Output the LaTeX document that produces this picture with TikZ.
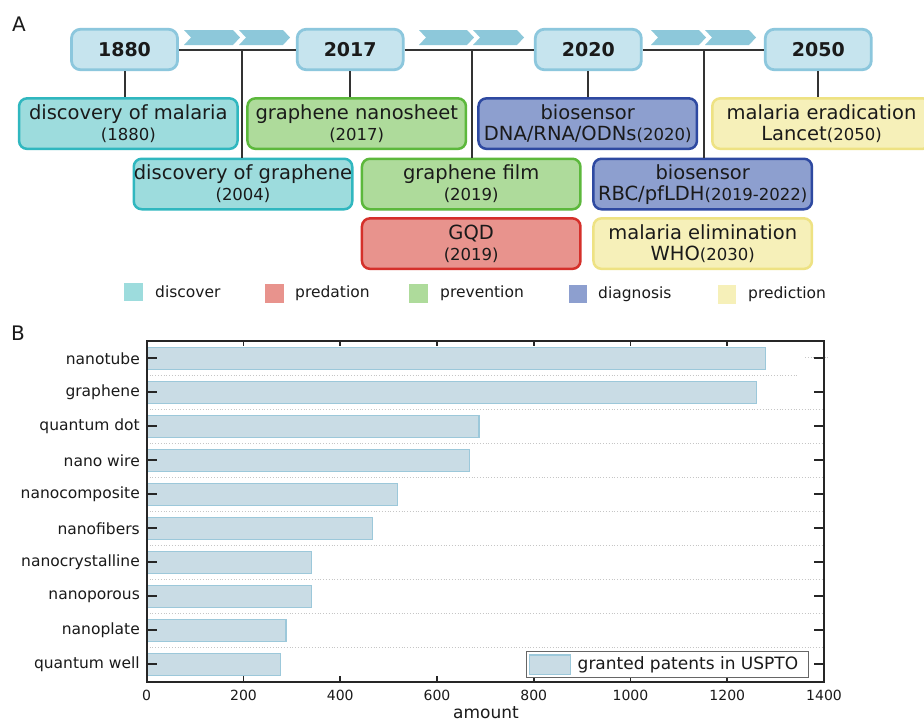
\documentclass[tikz,border=0pt]{standalone}
\usepackage{fontspec}
\setmainfont{DejaVu Sans}
\definecolor{yearF}{HTML}{C6E4EE}
\definecolor{yearB}{HTML}{8CC7DD}
\definecolor{chevC}{HTML}{8DC8DA}
\definecolor{discF}{HTML}{9DDCDD}
\definecolor{discB}{HTML}{30B7BF}
\definecolor{prevF}{HTML}{AEDB9B}
\definecolor{prevB}{HTML}{5CB83C}
\definecolor{predF}{HTML}{E8938D}
\definecolor{predB}{HTML}{D5302A}
\definecolor{diagF}{HTML}{8D9FCF}
\definecolor{diagB}{HTML}{2E49A1}
\definecolor{progF}{HTML}{F6F0B9}
\definecolor{progB}{HTML}{EEE283}
\definecolor{barF}{HTML}{C9DCE5}
\definecolor{barB}{HTML}{9CC8DA}
\definecolor{txt}{HTML}{1A1A1A}
\definecolor{connC}{HTML}{333333}
\newcommand{\evtext}[2]{\fontsize{19.5}{21}\selectfont\begin{tabular}{@{}c@{}}\rule{0pt}{19pt}#1\\{\fontsize{16.5}{21}\selectfont #2}\end{tabular}}
\begin{document}
\begin{tikzpicture}[x=1pt,y=-1pt,
  every node/.style={text=txt},
  yearbox/.style={draw=yearB, fill=yearF, line width=2.8pt, rounded corners=9pt,
    minimum width=106pt, minimum height=40.5pt, inner sep=0pt,
    font=\fontsize{19}{22}\selectfont\bfseries},
  evbox/.style={line width=2.5pt, rounded corners=8pt, minimum width=218.5pt,
    minimum height=50.5pt, inner sep=0pt},
  discbox/.style={evbox, draw=discB, fill=discF},
  prevbox/.style={evbox, draw=prevB, fill=prevF},
  predbox/.style={evbox, draw=predB, fill=predF},
  diagbox/.style={evbox, draw=diagB, fill=diagF},
  progbox/.style={evbox, draw=progB, fill=progF},
  conn/.style={draw=connC, line width=2pt},
  chevst/.style={fill=chevC},
  legsq/.style={minimum size=18.5pt, inner sep=0pt},
  legtxt/.style={anchor=west, inner sep=0pt, font=\fontsize{15.5}{18}\selectfont},
  barst/.style={draw=barB, fill=barF, line width=1.2pt},
  gridln/.style={draw=gray!45, dotted, line width=0.8pt},
  axisln/.style={draw=black!85, line width=1.8pt},
  ylab/.style={font=\fontsize{15.5}{18}\selectfont, inner sep=0pt},
  xlab/.style={font=\fontsize{14}{16}\selectfont, inner sep=0pt},
  panel/.style={font=\fontsize{20}{22}\selectfont, inner sep=0pt}
]
\useasboundingbox (0,0) rectangle (924,724);
\clip (0,0) rectangle (924,724);
\fill[white] (0,0) rectangle (924,724);

% panel labels
\node[panel] (pA) at (19,24) {A};
\node[panel] (pB) at (18,333) {B};

% chevrons
\foreach \a/\b in {184/240,239/290,419/474,473/524,651/706,705/756}{
  \fill[chevst] (\a,30) -- (\b-7,30) -- (\b,37.5) -- (\b-7,45) -- (\a,45) -- (\a+7,37.5) -- cycle;
}

% year nodes
\node[yearbox] (y1880) at (124.5,49.5) {1880};
\node[yearbox] (y2017) at (350.2,49.5) {2017};
\node[yearbox] (y2020) at (588.3,49.5) {2020};
\node[yearbox] (y2050) at (818.3,49.5) {2050};

% event nodes
\node[discbox] (mal) at (128.3,123.6) {\evtext{discovery of malaria}{(1880)}};
\node[prevbox] (nano) at (356.7,123.6) {\evtext{graphene nanosheet}{(2017)}};
\node[diagbox] (dna) at (587.7,123.6) {\evtext{biosensor}{{\fontsize{19.5}{21}\selectfont DNA/RNA/ODNs}(2020)}};
\node[progbox] (erad) at (821.5,123.6) {\evtext{malaria eradication}{{\fontsize{19.5}{21}\selectfont Lancet}(2050)}};
\node[discbox] (dg) at (243,184) {\evtext{discovery of graphene}{(2004)}};
\node[prevbox] (film) at (471.2,184) {\evtext{graphene film}{(2019)}};
\node[diagbox] (rbc) at (702.7,184) {\evtext{biosensor}{{\fontsize{19.5}{21}\selectfont RBC/pfLDH}(2019-2022)}};
\node[predbox] (gqd) at (471.2,243.6) {\evtext{GQD}{(2019)}};
\node[progbox] (elim) at (702.7,243.6) {\evtext{malaria elimination}{{\fontsize{19.5}{21}\selectfont WHO}(2030)}};

% connectors
\draw[conn] (y1880) -- (y2017);
\draw[conn] (y2017) -- (y2020);
\draw[conn] (y2020) -- (y2050);
\draw[conn] (y1880.south) -- (y1880.south |- mal.north);
\draw[conn] (y2017.south) -- (y2017.south |- nano.north);
\draw[conn] (y2020.south) -- (y2020.south |- dna.north);
\draw[conn] (y2050.south) -- (y2050.south |- erad.north);
\coordinate (j1) at (242.3,49.5);
\coordinate (j2) at (472.3,49.5);
\coordinate (j3) at (704.3,49.5);
\draw[conn] (j1) -- (j1 |- dg.north);
\draw[conn] (j2) -- (j2 |- film.north);
\draw[conn] (j3) -- (j3 |- rbc.north);

% legend A
\node[legsq, fill=discF] (lq1) at (133.5,292) {};
\node[legtxt] (lt1) at (155,292) {discover};
\node[legsq, fill=predF] (lq2) at (274.7,293.5) {};
\node[legtxt] (lt2) at (295,293.5) {predation};
\node[legsq, fill=prevF] (lq3) at (418.7,293.5) {};
\node[legtxt] (lt3) at (440,293.5) {prevention};
\node[legsq, fill=diagF] (lq4) at (577.8,294) {};
\node[legtxt] (lt4) at (598,294) {diagnosis};
\node[legsq, fill=progF] (lq5) at (727,294.5) {};
\node[legtxt] (lt5) at (748,294.5) {prediction};

% plot B
\draw[gridln] (146.7,375.3) -- (797,375.3);
\foreach \i in {1,...,8}{
  \draw[gridln] (146.7,375.3+34*\i) -- (824,375.3+34*\i);
}
\draw[gridln] (805,357) -- (830,357);
\foreach \lab/\val [count=\i from 0] in {nanotube/1279,graphene/1260,quantum dot/687,nano wire/668,nanocomposite/519,nanofibers/466,nanocrystalline/341,nanoporous/340,nanoplate/288,quantum well/276}{
  \pgfmathsetmacro\yc{358.3+34*\i}
  \draw[barst] (146.7,\yc-11) rectangle ({146.7+0.4838*\val},\yc+11);
  \node[ylab, anchor=east] (yl\i) at (140,\yc) {\lab};
  \draw[axisln] (146.7,\yc) -- (156.7,\yc);
  \draw[axisln] (814,\yc) -- (824,\yc);
}
\draw[axisln] (146.7,341) rectangle (824,681.7);
\foreach \v in {200,400,...,1200}{
  \draw[axisln] ({146.7+0.4838*\v},341) -- ({146.7+0.4838*\v},346);
  \draw[axisln] ({146.7+0.4838*\v},681.7) -- ({146.7+0.4838*\v},676);
}
\foreach \v in {0,200,...,1400}{
  \node[xlab] (xt\v) at ({146.7+0.4838*\v},695) {\v};
}
\node[font=\fontsize{17}{19}\selectfont, inner sep=0pt] (xtitle) at (486,712.5) {amount};

% plot legend
\draw[draw=black!60, fill=white, line width=1pt] (526.7,651.7) rectangle (808.3,677.3);
\draw[barst] (529.5,655) rectangle (570.5,674.5);
\node[anchor=west, inner sep=0pt, font=\fontsize{17}{19}\selectfont] (legB) at (577.5,664.5) {granted patents in USPTO};
\end{tikzpicture}
\end{document}
